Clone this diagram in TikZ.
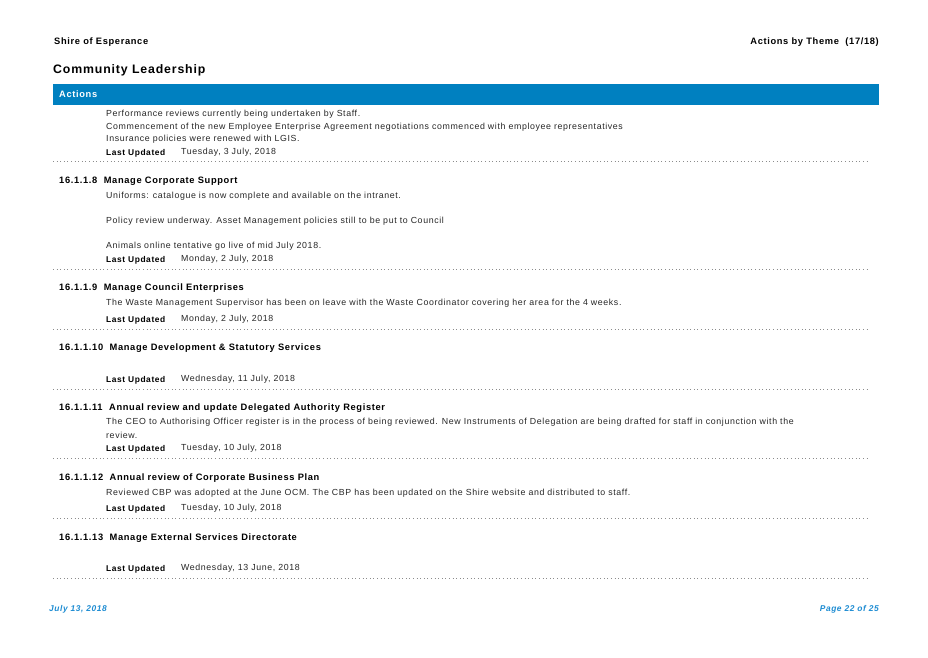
\documentclass[tikz,border=0pt]{standalone}
\usepackage{fontspec}
\setmainfont[LetterSpace=7]{Liberation Sans}
\usepackage{xcolor}
\usetikzlibrary{positioning}
\definecolor{barblue}{HTML}{0080C0}
\definecolor{footblue}{HTML}{1E8CD2}
\tikzset{
  body/.style={anchor=west, inner sep=0pt, font=\fontsize{8.8}{10}\selectfont, text=black!85},
  head/.style={anchor=west, inner sep=0pt, font=\fontsize{9.3}{10}\selectfont\bfseries},
  lastup/.style={anchor=west, inner sep=0pt, font=\fontsize{8.4}{10}\selectfont\bfseries},
  sepline/.style={draw=black!45, line width=0.6pt, dash pattern=on 0.6pt off 3pt}
}
\begin{document}
\begin{tikzpicture}[x=1pt, y=-1pt]
    % Page frame
    \useasboundingbox (0,0) rectangle (928,657);

    % Header
    \node[head] (org) at (54,42) {Shire of Esperance};
    \node[head, anchor=east] (theme) at (879,42) {Actions by Theme\ \ (17/18)};
    \node[anchor=west, inner sep=0pt, font=\fontsize{12.3}{13}\selectfont\bfseries] (title) at (53,70) {Community Leadership};

    % Blue bar
    \fill[barblue] (53,84) rectangle (879,105);
    \node[anchor=west, inner sep=0pt, text=white, font=\fontsize{9.3}{10}\selectfont\bfseries] (actions) at (59,94) {Actions};

    % Continued item
    \node[body] (c1) at (106,114) {Performance reviews currently being undertaken by Staff.};
    \node[body] (c2) at (106,127) {Commencement of the new Employee Enterprise Agreement negotiations commenced with employee representatives};
    \node[body] (c3) at (106,139) {Insurance policies were renewed with LGIS.};
    \node[lastup] (lu0) at (106,153) {Last Updated};
    \node[body] (d0) at (181,152) {Tuesday, 3 July, 2018};

    % 16.1.1.8
    \node[head] (h8) at (59,181) {16.1.1.8\ \ Manage Corporate Support};
    \node[body] (t8a) at (106,196) {Uniforms: catalogue is now complete and available on the intranet.};
    \node[body] (t8b) at (106,221) {Policy review underway. Asset Management policies still to be put to Council};
    \node[body] (t8c) at (106,246) {Animals online tentative go live of mid July 2018.};
    \node[lastup] (lu8) at (106,260) {Last Updated};
    \node[body] (d8) at (181,259) {Monday, 2 July, 2018};

    % 16.1.1.9
    \node[head] (h9) at (59,288) {16.1.1.9\ \ Manage Council Enterprises};
    \node[body] (t9) at (106,303) {The Waste Management Supervisor has been on leave with the Waste Coordinator covering her area for the 4 weeks.};
    \node[lastup] (lu9) at (106,320) {Last Updated};
    \node[body] (d9) at (181,319) {Monday, 2 July, 2018};

    % 16.1.1.10
    \node[head] (h10) at (59,348) {16.1.1.10\ \ Manage Development \& Statutory Services};
    \node[lastup] (lu10) at (106,380) {Last Updated};
    \node[body] (d10) at (181,379) {Wednesday, 11 July, 2018};

    % 16.1.1.11
    \node[head] (h11) at (59,408) {16.1.1.11\ \ Annual review and update Delegated Authority Register};
    \node[body] (t11a) at (106,422) {The CEO to Authorising Officer register is in the process of being reviewed. New Instruments of Delegation are being drafted for staff in conjunction with the};
    \node[body] (t11b) at (106,435) {review.};
    \node[lastup] (lu11) at (106,449) {Last Updated};
    \node[body] (d11) at (181,448) {Tuesday, 10 July, 2018};

    % 16.1.1.12
    \node[head] (h12) at (59,478) {16.1.1.12\ \ Annual review of Corporate Business Plan};
    \node[body] (t12) at (106,493) {Reviewed CBP was adopted at the June OCM. The CBP has been updated on the Shire website and distributed to staff.};
    \node[lastup] (lu12) at (106,509) {Last Updated};
    \node[body] (d12) at (181,508) {Tuesday, 10 July, 2018};

    % 16.1.1.13
    \node[head] (h13) at (59,538) {16.1.1.13\ \ Manage External Services Directorate};
    \node[lastup] (lu13) at (106,569) {Last Updated};
    \node[body] (d13) at (181,568) {Wednesday, 13 June, 2018};

    % Separators
    \foreach \y in {161,269,329,389,458,518,578}
        \draw[sepline] (53,\y) -- (870,\y);

    % Footer
    \node[anchor=west, inner sep=0pt, text=footblue, font=\fontsize{8.4}{10}\selectfont\bfseries\itshape] (date) at (49,609) {July 13, 2018};
    \node[anchor=east, inner sep=0pt, text=footblue, font=\fontsize{8.4}{10}\selectfont\bfseries\itshape] (page) at (879,609) {Page 22 of 25};
\end{tikzpicture}
\end{document}
